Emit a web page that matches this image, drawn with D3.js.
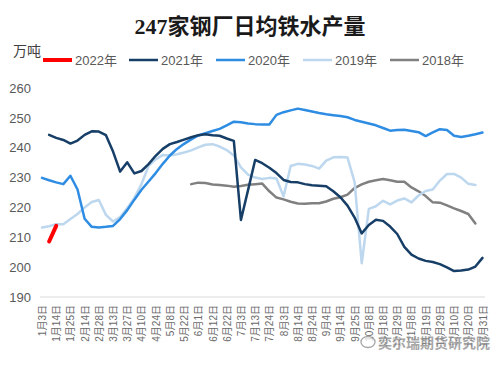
<!DOCTYPE html>
<html>
<head>
<meta charset="utf-8">
<script src="https://cdn.jsdelivr.net/npm/d3@7"></script>
<style>
  html, body { margin: 0; padding: 0; background: #ffffff; }
  svg { display: block; }
</style>
</head>
<body>
<svg id="chart" width="500" height="366"></svg>
<script>
// ---------------- DATA ----------------
const categories = ["1月3日","1月8日","1月14日","1月20日","1月25日","2月4日","2月14日","2月21日","2月28日","3月6日","3月13日","3月20日","3月27日","4月3日","4月10日","4月17日","4月24日","5月1日","5月8日","5月15日","5月22日","5月27日","6月1日","6月7日","6月12日","6月17日","6月22日","6月28日","7月3日","7月8日","7月13日","7月18日","7月24日","7月29日","8月3日","8月8日","8月14日","8月19日","8月24日","8月29日","9月4日","9月9日","9月14日","9月19日","9月25日","9月30日","10月8日","10月13日","10月18日","10月24日","10月29日","11月3日","11月8日","11月14日","11月19日","11月24日","11月29日","12月5日","12月10日","12月15日","12月20日","12月25日","12月31日"];

const tickLabels = ["1月3日","1月14日","1月25日","2月14日","2月28日","3月13日","3月27日","4月10日","4月24日","5月8日","5月22日","6月1日","6月12日","6月22日","7月3日","7月13日","7月24日","8月3日","8月14日","8月24日","9月4日","9月14日","9月25日","10月8日","10月18日","10月29日","11月8日","11月19日","11月29日","12月10日","12月20日","12月31日"];

const yTicks = [190, 200, 210, 220, 230, 240, 250, 260];

const seriesNames = ["2022年", "2021年", "2020年", "2019年", "2018年"];

const v2022 = [null,208.6,213.8,null,null,null,null,null,null,null,null,null,null,null,null,null,null,null,null,null,null,null,null,null,null,null,null,null,null,null,null,null,null,null,null,null,null,null,null,null,null,null,null,null,null,null,null,null,null,null,null,null,null,null,null,null,null,null,null,null,null,null,null];

const v2021 = [null,244.3,243.3,242.6,241.4,242.4,244.3,245.5,245.4,244.2,238.7,232.0,235.1,231.4,232.2,234.5,237.3,239.6,241.2,241.9,242.7,243.5,244.2,244.5,244.2,244.0,243.1,242.3,215.8,225.8,235.9,234.8,233.3,231.5,229.2,228.5,228.4,227.8,227.4,227.3,227.1,225.4,223.4,220.6,216.6,211.3,214.1,215.9,215.5,213.6,211.1,206.8,204.2,202.9,202.1,201.7,201.0,199.9,198.7,198.9,199.2,200.2,203.1];

const v2020 = [229.9,229.1,228.4,227.8,230.6,226.0,216.2,213.5,213.3,213.5,213.8,216.1,219.1,222.6,225.9,228.7,231.5,234.6,237.4,239.6,241.3,242.8,244.1,244.9,245.6,246.3,247.5,248.7,248.5,248.1,247.9,247.8,247.8,251.0,251.9,252.5,253.1,252.6,252.1,251.6,251.2,250.9,250.6,250.2,249.3,248.7,248.1,247.5,246.6,245.7,245.9,246.0,245.6,245.2,243.9,245.1,246.2,245.9,244.0,243.6,244.0,244.5,245.1];

const v2019 = [213.3,213.7,214.4,214.4,216.1,217.8,220.0,221.8,222.5,217.5,215.3,216.8,219.8,223.2,227.8,233.9,236.1,237.6,237.4,237.8,238.4,239.1,240.1,241.0,241.2,240.4,239.2,237.4,233.4,231.0,230.0,229.5,229.9,229.7,223.7,233.9,234.6,234.4,233.9,233.0,235.7,236.8,236.9,236.7,228.5,201.3,219.5,220.4,222.2,221.0,222.3,223.0,221.7,224.0,225.5,226.0,229.0,231.2,231.2,230.0,227.9,227.5,null];

const v2018 = [null,null,null,null,null,null,null,null,null,null,null,null,null,null,null,null,null,null,null,null,null,227.8,228.3,228.2,227.7,227.5,227.3,226.9,227.2,227.6,227.8,228.0,225.4,223.3,222.7,221.9,221.3,221.2,221.4,221.4,222.0,222.9,223.4,224.3,226.5,227.7,228.6,229.1,229.5,229.1,228.6,228.6,226.7,225.4,223.8,221.7,221.6,220.7,219.7,218.8,217.8,214.6,null];

const seriesValues = [v2022, v2021, v2020, v2019, v2018];
const seriesColors = ["#FF0000", "#163E67", "#2E8DE3", "#BDD7EE", "#808080"];
const seriesWidths = [4, 2.5, 2.5, 2.5, 2.5];

// ---------------- CHART ----------------
const svg = d3.select("#chart");

const x = d3.scalePoint().domain(categories).range([42, 482.5]);
const y = d3.scaleLinear().domain([190, 260]).range([297, 88]);

// Title
svg.append("text")
  .attr("x", 250).attr("y", 34)
  .attr("text-anchor", "middle")
  .attr("font-family", "'Liberation Serif', 'Noto Sans CJK SC', serif")
  .attr("font-weight", "bold")
  .attr("font-size", 22)
  .attr("fill", "#1a1a1a")
  .text("247家钢厂日均铁水产量");

// Unit label
svg.append("text")
  .attr("x", 13).attr("y", 56)
  .attr("font-family", "'Noto Sans CJK SC', sans-serif")
  .attr("font-size", 14)
  .attr("fill", "#404040")
  .text("万吨");

// Legend
const legendX = [43, 129, 216, 303, 390];
const legend = svg.append("g");
seriesNames.forEach((name, i) => {
  const g = legend.append("g").attr("transform", `translate(${legendX[i]},60)`);
  g.append("line").attr("x1", 0).attr("x2", 29).attr("y1", 0).attr("y2", 0)
    .attr("stroke", seriesColors[i]).attr("stroke-width", seriesWidths[i] === 4 ? 4 : 2.5);
  g.append("text").attr("x", 32).attr("y", 5)
    .attr("font-family", "'Liberation Sans', 'Noto Sans CJK SC', sans-serif")
    .attr("font-size", 13).attr("fill", "#595959")
    .text(name);
});

// Y axis
const yAxis = d3.axisLeft(y).tickValues(yTicks).tickSize(0).tickPadding(0);
const gy = svg.append("g").attr("transform", "translate(31,0)").call(yAxis);
gy.select(".domain").remove();
gy.selectAll("text")
  .attr("font-family", "'Liberation Sans', sans-serif")
  .attr("font-size", 13).attr("fill", "#595959");

// X axis baseline
svg.append("line")
  .attr("x1", 40).attr("x2", 485)
  .attr("y1", y(190)).attr("y2", y(190))
  .attr("stroke", "#D9D9D9").attr("stroke-width", 1);

// X tick labels
const xAxis = d3.axisBottom(x).tickValues(tickLabels).tickSize(0).tickPadding(0);
const gx = svg.append("g").attr("transform", `translate(0,${y(190) + 8})`).call(xAxis);
gx.select(".domain").remove();
gx.selectAll("text")
  .attr("font-family", "'Liberation Sans', 'Noto Sans CJK SC', sans-serif")
  .attr("font-size", 10).attr("fill", "#6a6a6a")
  .attr("transform", "rotate(-90)")
  .attr("text-anchor", "end")
  .attr("dy", "0.35em")
  .attr("x", 0).attr("y", 0);

// Lines (draw 2018 first so 2022 is on top)
const line = d3.line()
  .defined(d => d.v !== null)
  .x(d => x(d.c))
  .y(d => y(d.v));

for (let i = seriesValues.length - 1; i >= 0; i--) {
  const data = categories.map((c, k) => ({ c: c, v: seriesValues[i][k] }));
  svg.append("path")
    .datum(data)
    .attr("fill", "none")
    .attr("stroke", seriesColors[i])
    .attr("stroke-width", seriesWidths[i])
    .attr("stroke-linejoin", "round")
    .attr("stroke-linecap", "round")
    .attr("d", line);
}

// Watermark
const wm = svg.append("g").attr("opacity", 0.75);
wm.append("ellipse").attr("cx", 368).attr("cy", 342).attr("rx", 7).attr("ry", 5.5)
  .attr("fill", "#ffffff").attr("stroke", "#8a8a8a").attr("stroke-width", 1.3);
wm.append("text").attr("x", 378).attr("y", 348)
  .attr("font-family", "'Noto Sans CJK SC', sans-serif")
  .attr("font-size", 14).attr("font-weight", "bold")
  .attr("fill", "#8a8a8a")
  .attr("stroke", "#ffffff").attr("stroke-width", 2).attr("paint-order", "stroke")
  .text("奕尔瑞期货研究院");
</script>
</body>
</html>
